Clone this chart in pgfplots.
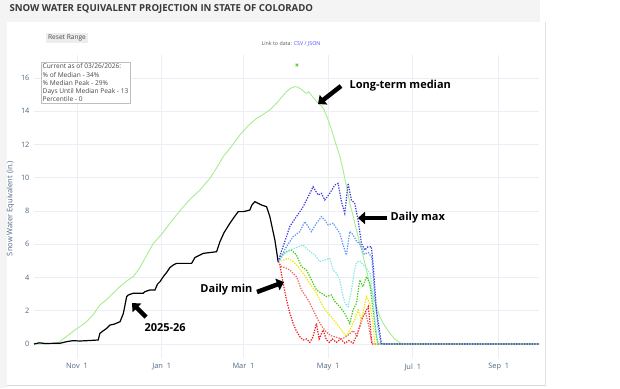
\documentclass[border=0pt]{standalone}
\usepackage{fontspec}
\setmainfont{Open Sans}
\usepackage{pgfplots}
\pgfplotsset{compat=1.18}
\usetikzlibrary{arrows.meta}
\definecolor{tickc}{HTML}{506784}
\definecolor{gridc}{HTML}{EBEEF5}
\definecolor{medc}{HTML}{A6EE8E}
\definecolor{maxc}{HTML}{3A3AE0}
\definecolor{p90c}{HTML}{5A96F5}
\definecolor{p70c}{HTML}{80E6E6}
\definecolor{p50c}{HTML}{3CCC14}
\definecolor{p30c}{HTML}{F5E600}
\definecolor{p10c}{HTML}{F06060}
\definecolor{minc}{HTML}{F01818}
\definecolor{barc}{HTML}{F4F4F4}

\pgfplotstableread{
d v
0 0
10 0.02
15 0.05
18 0.1
21 0.3
25 0.55
29.5 0.84
34 1.1
38 1.35
43 1.8
47.5 2.35
52 2.65
57 3.05
62 3.45
67 3.8
71.5 4.05
76 4.55
81 5.3
86 6.05
92 6.6
98 7.26
105 8.0
112 8.66
119.6 9.26
126.8 9.97
131 10.5
136.4 11.27
142 11.85
148.4 12.57
154 13.1
160.4 13.57
165 13.8
170 14.08
174.9 14.48
178 14.8
182 15.18
185 15.38
188 15.48
190 15.45
192.8 15.31
195 15.15
196.5 15.08
198 15.18
200 14.95
203.7 14.58
206 14.4
208.5 14.18
211 13.7
214.5 12.87
217 12.2
220.5 11.27
222.8 10.47
224 9.97
227.7 8.46
230 7.7
233.6 6.45
236 5.7
239.7 4.45
242 3.6
244.5 2.85
247 2.2
249.3 1.64
252 1.2
256.5 0.64
260 0.3
263.7 0.08
266 0
364 0
}\median

\pgfplotstableread{
d v
0 0
4 0.07
8 0.03
14 0.04
19 0.05
23.5 0.14
28 0.2
33 0.18
38 0.2
42 0.22
46.3 0.24
47.5 0.64
50 0.8
52.4 0.94
54.8 1.14
58 1.2
62 1.34
64.4 1.84
66.8 2.85
68 2.95
71.5 3.05
78.7 3.05
80 3.15
83.6 3.25
87.2 3.25
89 3.6
90.8 3.75
93.2 4.05
95.6 4.3
98 4.6
100.4 4.75
102.8 4.85
113.6 4.85
116 5.2
119.6 5.35
122 5.45
131.6 5.55
134 6.15
137 6.7
141.2 7.26
144 7.6
147.2 7.96
150.8 7.96
153 8.0
155.6 8.06
157 8.35
159.2 8.56
164 8.36
167.6 8.26
170 7.66
173.6 6.26
176 4.95
}\current

\pgfplotstableread{
d v
176 4.95
178 5.5
180.8 6.16
184.4 7.06
187 7.4
189.2 7.66
192 8.0
194 8.26
197.6 8.86
201.2 9.46
203 9.2
204.8 8.96
207.2 9.06
209.6 8.66
213.2 9.06
216.8 9.56
219.2 9.66
221.6 8.56
224 7.86
226.4 9.66
228.8 8.66
231.2 8.46
233.6 7.46
236 6.05
238.4 5.65
240.8 5.85
243.2 5.85
244.4 4.85
246.8 2.05
250.4 0.04
252 0
364 0
}\pmax

\pgfplotstableread{
d v
176 4.95
179 5.4
182 5.86
186.8 6.46
191.6 6.76
195.2 7.36
197.6 7.06
200 6.76
203.6 7.26
207.2 7.66
209.6 7.46
212 7.16
215.6 7.26
218 6.96
220.4 6.66
222.8 5.95
225.2 5.35
227.6 6.76
230 6.56
232.4 6.2
235 6.0
238 5.4
241 5.5
243.5 5.2
245.5 3.0
248 1.0
250 0
364 0
}\pninety

\pgfplotstableread{
d v
176 4.95
180.8 5.45
184.4 5.65
189.2 5.8
194 5.95
197.6 5.65
202.4 5.35
206 4.95
209.6 5.05
213.2 5.15
215.6 4.45
218 4.25
220.4 3.84
222.8 2.85
224.5 2.4
226.4 2.25
228.8 3.25
231 4.4
232.4 4.9
234.8 5.0
237 4.8
240 4.5
242.5 4.2
244.5 2.5
246.5 0.8
248 0
364 0
}\pseventy

\pgfplotstableread{
d v
176 4.95
178 5.3
182 5.56
185.6 5.65
189.2 5.35
192.8 4.65
196.4 4.45
200 3.85
203.6 3.25
207.2 3.05
210.8 2.85
214.4 2.95
216.8 2.55
220.4 2.25
224 1.84
227.6 1.24
230 2.05
232.4 2.45
234.8 3.85
237.2 3.45
239.6 4.05
242 3.65
244.4 2.05
246.8 0.44
248 0
364 0
}\pfifty

\pgfplotstableread{
d v
176 4.95
179.6 5.05
183.2 5.15
186.8 4.95
190.4 4.65
194 4.25
198.8 3.65
203.6 3.05
208.4 2.25
212 1.84
214.4 1.64
218 1.24
221.6 0.84
225.2 0.44
228.8 1.04
231.2 1.44
233.6 2.05
236 1.44
239.6 2.85
242 2.45
244.4 1.24
245.6 0
364 0
}\pthirty

\pgfplotstableread{
d v
176 4.95
178.4 4.65
181 4.6
184.4 4.45
189.2 4.05
192.8 3.25
197.6 2.65
201.2 2.05
204.8 1.44
208 1.0
211 0.7
214 0.5
218 0.4
222 0.3
226 0.5
230 0.8
233 0.5
236 1.5
239 1.9
241 1.2
243 0.3
244 0
364 0
}\pten

\pgfplotstableread{
d v
176 4.95
177.2 4.75
179.6 3.65
182 2.65
184.4 1.85
186.8 1.24
189 0.8
191.6 0.44
194 0.24
196.4 0.3
198.8 0.1
201 0.4
203.6 1.24
205.5 0.3
208.4 0.84
210.8 0.24
213 0.1
215 0.3
218 0.1
221 0.3
224 0.05
227 0.2
230 0.05
232.4 0.5
234.8 1.04
237.2 1.64
239.6 2.05
241 2.25
242.5 1.0
243.5 0
364 0
}\pmin

\begin{document}
\begin{tikzpicture}[x=1pt,y=1pt]
\path[use as bounding box] (0,0) rectangle (620,388);
\fill[white] (0,0) rectangle (620,388);
% page frame
\fill[barc] (0,366) rectangle (540,388);
\fill[barc] (0,0) rectangle (7,366);
\draw[black!15] (7,2.5) -- (545,2.5);
\draw[black!12] (545,2.5) -- (545,366);
\node[anchor=west,text=black!78,font=\fontsize{9.6}{11}\selectfont\bfseries] at (6,379) {SNOW WATER EQUIVALENT PROJECTION IN STATE OF COLORADO};
% reset button
\node[fill=black!7,text=black!70,font=\fontsize{6.6}{7}\selectfont,inner sep=1.8pt] at (67,350) {Reset Range};
\node[font=\fontsize{5.3}{6}\selectfont,text=black!65] at (291,344) {Link to data: \textcolor{blue!70}{CSV / JSON}};

\begin{axis}[
  at={(34pt,30pt)}, anchor=south west,
  scale only axis, width=505pt, height=303pt,
  xmin=0, xmax=364, ymin=-0.842, ymax=17.38,
  axis line style={draw=none},
  tick style={draw=none},
  xtick={31,92,151,212,273,335},
  xticklabels={Nov\ \ 1,Jan\ \ 1,Mar\ \ 1,May\ \ 1,Jul\ \ 1,Sep\ \ 1},
  ytick={0,2,...,16},
  grid=major,
  major grid style={gridc, line width=0.6pt},
  ticklabel style={text=tickc, font=\fontsize{7.4}{8}\selectfont},
  /pgf/number format/assume math mode=true,
  xticklabel style={yshift=-2pt},
  yticklabel style={xshift=-1pt},
  ylabel={Snow Water Equivalent (in.)},
  ylabel style={text=tickc, font=\fontsize{7.5}{8}\selectfont, at={(ticklabel cs:0.5)}, xshift=-2pt},
  clip=false,
]
\addplot[medc, line width=0.9pt] table[x=d,y=v] {\median};
\addplot[only marks, mark=x, mark size=1.8pt, line width=1pt, color=p50c!70!medc] coordinates {(189.5,16.78)};
\addplot[black, line width=1.2pt] table[x=d,y=v] {\current};
\pgfplotsset{proj/.style={line width=1.2pt, dash pattern=on 1.3pt off 1.3pt}}
\addplot[proj, minc] table[x=d,y=v] {\pmin};
\addplot[proj, p10c] table[x=d,y=v] {\pten};
\addplot[proj, p30c] table[x=d,y=v] {\pthirty};
\addplot[proj, p50c] table[x=d,y=v] {\pfifty};
\addplot[proj, p70c] table[x=d,y=v] {\pseventy};
\addplot[proj, p90c] table[x=d,y=v] {\pninety};
\addplot[proj, maxc] table[x=d,y=v] {\pmax};
\end{axis}

% hover box
\node[draw=black!25, fill=white, fill opacity=0.9, text opacity=1, anchor=north west, align=left, inner sep=1.5pt,
  font=\fontsize{6.6}{8.3}\selectfont, text=black!72] at (41,326) {Current as of 03/26/2026:\\\% of Median - 34\%\\\% Median Peak - 29\%\\Days Until Median Peak - 13\\Percentile - 0};

% annotations
\tikzset{bigarrow/.style={line width=4.5pt, -{Triangle[length=7pt,width=12pt]}}}
\draw[bigarrow] (341,302) -- (318,284);
\node[anchor=west, font=\fontsize{11}{12}\selectfont\bfseries] at (346,302) {Long-term median};
\draw[bigarrow] (387,170) -- (358,170);
\node[anchor=west, font=\fontsize{11}{12}\selectfont\bfseries] at (387,170) {Daily max};
\draw[bigarrow] (257,96) -- (284,106);
\node[anchor=east, font=\fontsize{11}{12}\selectfont\bfseries] at (256,98) {Daily min};
\draw[bigarrow] (146,71) -- (132,85);
\node[anchor=west, font=\fontsize{11}{12}\selectfont\bfseries] at (141,60) {2025-26};
\end{tikzpicture}
\end{document}
